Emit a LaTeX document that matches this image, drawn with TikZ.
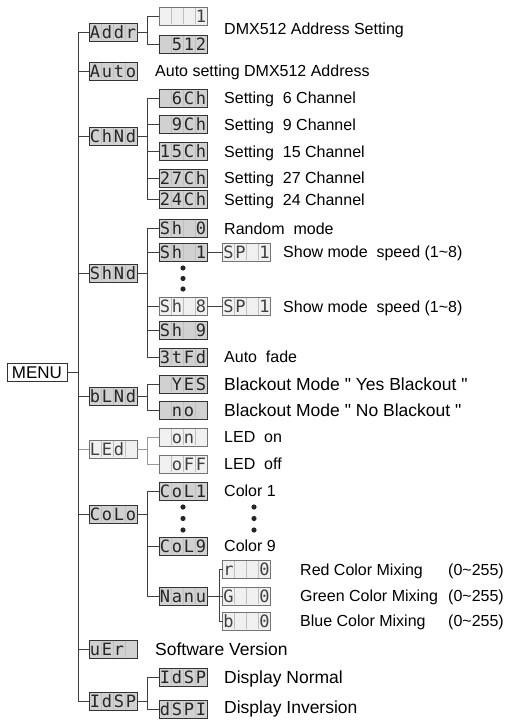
\documentclass[tikz,border=0pt]{standalone}
\usepackage{fontspec}
\setmainfont{Liberation Sans}
\newfontfamily\lcdfont{DejaVu Sans Mono}

% one display cell
\newcommand\cel[1]{\makebox[12pt]{#1}}
% four-cell display: [style] name, position, four characters
\newcommand\panel[7][]{%
	\node[lcd, #1] (#2) at (#3) {\cel{#4}\cel{#5}\cel{#6}\cel{#7}};
	\foreach \k in {12,24,36}
		\draw[white!75!black, line width=0.5pt] (#2.north west) ++(\k,0.6) -- ++(0,16.8);
}

\begin{document}
\begin{tikzpicture}[x=1pt, y=-1pt,
	wire/.style={draw=black!75, line width=0.8pt},
	wirepale/.style={draw=black!40, line width=0.8pt},
	lcd/.style={rectangle, draw=black!80, fill=black!18, line width=0.8pt, inner sep=0pt, outer sep=0pt,
		minimum width=48pt, minimum height=18pt, text height=12.4pt, text depth=0pt,
		font=\lcdfont\fontsize{17}{17}\selectfont, text=black!85},
	lcdpale/.style={draw=black!55, fill=black!6, text=black!75},
	txt/.style={anchor=west, inner sep=0pt, text height=11.5pt, text depth=0pt, font=\fontsize{16}{18}\selectfont},
	bigtxt/.style={txt, text height=12.6pt, font=\fontsize{17.5}{20}\selectfont}]

\def\ca{113}
\def\cb{183}
\def\cc{246.5}
\def\tx{224}

\path [use as bounding box] (0,0) rectangle (507,723);

% MENU
\node[draw=black!80, line width=0.8pt, minimum width=60pt, minimum height=18pt, inner sep=0pt, outer sep=0pt,
	text height=12.2pt, text depth=0pt, font=\fontsize{17}{17}\selectfont] (menu) at (37,372) {MENU};

% FIRST LEVEL
\panel{addr}{\ca,32}{A}{d}{d}{r}
\panel{auto}{\ca,71}{A}{u}{t}{o}
\panel{chnd}{\ca,136}{C}{h}{N}{d}
\panel{shnd}{\ca,273}{S}{h}{N}{d}
\panel{blnd}{\ca,396.5}{b}{L}{N}{d}
\panel[lcdpale]{led}{\ca,449}{L}{E}{d}{}
\panel{colo}{\ca,514}{C}{o}{L}{o}
\panel{ver}{\ca,649}{u}{E}{r}{}
\panel{dsp}{\ca,701.5}{I}{d}{S}{P}

% SECOND LEVEL
\panel[lcdpale]{adr1}{\cb,16}{}{}{}{1}
\panel{adr2}{\cb,44.5}{}{5}{1}{2}

\panel{ch6}{\cb,98}{}{6}{C}{h}
\panel{ch9}{\cb,124.5}{}{9}{C}{h}
\panel{ch15}{\cb,151.5}{1}{5}{C}{h}
\panel{ch27}{\cb,178}{2}{7}{C}{h}
\panel{ch24}{\cb,199.5}{2}{4}{C}{h}

\panel{sh0}{\cb,228.5}{S}{h}{}{0}
\panel{sh1}{\cb,252}{S}{h}{}{1}
\panel[lcdpale]{sh8}{\cb,306.5}{S}{h}{}{8}
\panel{sh9}{\cb,330.5}{S}{h}{}{9}
\panel{shfd}{\cb,357}{3}{t}{F}{d}

\panel{blyes}{\cb,384}{}{Y}{E}{S}
\panel{blno}{\cb,410.5}{}{n}{o}{}

\panel[lcdpale]{ledon}{\cb,437}{}{o}{n}{}
\panel[lcdpale]{ledoff}{\cb,464}{}{o}{F}{F}

\panel{col1}{\cb,491}{C}{o}{L}{1}
\panel{col9}{\cb,546}{C}{o}{L}{9}
\panel{manu}{\cb,596}{N}{a}{n}{u}

\panel{dsp1}{\cb,677}{I}{d}{S}{P}
\panel{dsp2}{\cb,709}{d}{S}{P}{I}

% THIRD LEVEL
\panel[lcdpale]{sp1}{\cc,252}{S}{P}{}{1}
\panel[lcdpale]{sp8}{\cc,306.5}{S}{P}{}{1}
\panel[lcdpale]{mixr}{\cc,569.5}{r}{}{}{0}
\panel[lcdpale]{mixg}{\cc,596}{G}{}{}{0}
\panel[lcdpale]{mixb}{\cc,621}{b}{}{}{0}

% CONNECTORS
\draw[wirepale] (menu.east) -- ++(11,0) |- (led.west);
\foreach \n in {addr,auto,chnd,shnd,blnd,colo,ver,dsp}
	\draw[wire] (menu.east) -- ++(11,0) |- (\n.west);
\foreach \n in {adr1,adr2}
	\draw[wire] (addr.east) -- ++(10,0) |- (\n.west);
\foreach \n in {ch6,ch9,ch15,ch27,ch24}
	\draw[wire] (chnd.east) -- ++(10,0) |- (\n.west);
\foreach \n in {sh0,sh1,sh8,sh9,shfd}
	\draw[wire] (shnd.east) -- ++(10,0) |- (\n.west);
\foreach \n in {blyes,blno}
	\draw[wire] (blnd.east) -- ++(10,0) |- (\n.west);
\foreach \n in {ledon,ledoff}
	\draw[wirepale] (led.east) -- ++(10,0) |- (\n.west);
\foreach \n in {col1,col9,manu}
	\draw[wire] (colo.east) -- ++(10,0) |- (\n.west);
\foreach \n in {dsp1,dsp2}
	\draw[wire] (dsp.east) -- ++(10,0) |- (\n.west);
\foreach \n in {mixr,mixg,mixb}
	\draw[wire] (manu.east) -- ++(12,0) |- (\n.west);
\draw[wire] (sh1) -- (sp1);
\draw[wire] (sh8) -- (sp8);

% DOTS
\foreach \y in {268,278.5,289}
	\fill[black!85] (\cb,\y) circle [radius=2.6pt];
\foreach \y in {507,518.5,530} {
	\fill[black!85] (\cb,\y) circle [radius=2.6pt];
	\fill[black!85] (254,\y) circle [radius=2.6pt];
}

% TEXTS
\node[txt] (tadr) at (\tx,29) {DMX512 Address Setting};
\node[txt] (tauto) at (155,71) {Auto setting DMX512 Address};
\node[txt] (tch6) at (\tx,98) {Setting\ \ 6 Channel};
\node[txt] (tch9) at (\tx,124.5) {Setting\ \ 9 Channel};
\node[txt] (tch15) at (\tx,151.5) {Setting\ \ 15 Channel};
\node[txt] (tch27) at (\tx,178) {Setting\ \ 27 Channel};
\node[txt] (tch24) at (\tx,199.5) {Setting\ \ 24 Channel};
\node[txt] (tsh0) at (\tx,228.5) {Random\ \ mode};
\node[txt] (tsp1) at (283,252) {Show mode\ \ speed (1\textasciitilde 8)};
\node[txt] (tsp8) at (283,306.5) {Show mode\ \ speed (1\textasciitilde 8)};
\node[txt] (tfd) at (\tx,357) {Auto\ \ fade};
\node[bigtxt] (tyes) at (\tx,384) {Blackout Mode \textquotedbl\ Yes Blackout \textquotedbl};
\node[bigtxt] (tno) at (\tx,410.5) {Blackout Mode \textquotedbl\ No Blackout \textquotedbl};
\node[txt] (ton) at (\tx,437) {LED\ \ on};
\node[txt] (toff) at (\tx,464) {LED\ \ off};
\node[txt] (tcol1) at (\tx,491) {Color 1};
\node[txt] (tcol9) at (\tx,546) {Color 9};
\node[txt] (tmixr) at (300,569.5) {Red Color Mixing};
\node[txt] (tmixg) at (300,596) {Green Color Mixing};
\node[txt] (tmixb) at (300,621) {Blue Color Mixing};
\node[txt] (tranr) at (448,569.5) {(0\textasciitilde 255)};
\node[txt] (trang) at (448,596) {(0\textasciitilde 255)};
\node[txt] (tranb) at (448,621) {(0\textasciitilde 255)};
\node[bigtxt] (tver) at (155,649) {Software Version};
\node[bigtxt] (tdsp1) at (\tx,677) {Display Normal};
\node[bigtxt] (tdsp2) at (\tx,707) {Display Inversion};

\end{tikzpicture}
\end{document}
